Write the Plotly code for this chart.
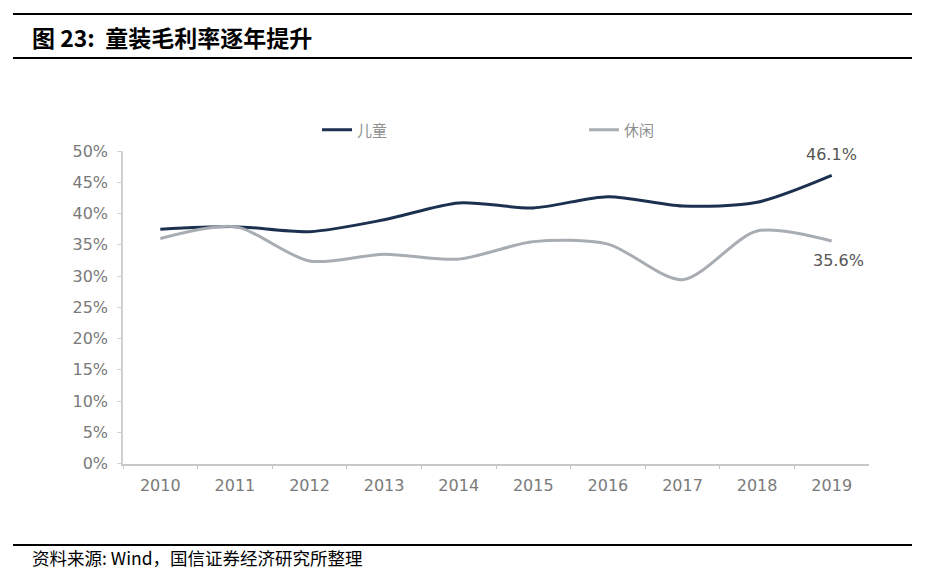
import plotly.graph_objects as go

years = ["2010", "2011", "2012", "2013", "2014", "2015", "2016", "2017", "2018", "2019"]
kids = [37.5, 37.9, 37.1, 39.0, 41.7, 40.9, 42.7, 41.2, 41.8, 46.1]
casual = [36.0, 37.9, 32.4, 33.5, 32.7, 35.5, 35.1, 29.4, 37.2, 35.6]
series_names = ["儿童", "休闲"]
y_ticks = [0, 5, 10, 15, 20, 25, 30, 35, 40, 45, 50]
y_tick_text = [f"{v}%" for v in y_ticks]

W, H = 947, 579
def px(x):
    return x / W
def py(y):
    return 1 - y / H

fig = go.Figure()
fig.add_trace(go.Scatter(x=years, y=kids, name=series_names[0], mode="lines",
                         line=dict(color="#1c3150", width=3, shape="spline", smoothing=0.8)))
fig.add_trace(go.Scatter(x=years, y=casual, name=series_names[1], mode="lines",
                         line=dict(color="#a8adb3", width=3, shape="spline", smoothing=0.8)))

num_font = dict(family="DejaVu Sans", size=16, color="#7a7a7a")

fig.update_layout(
    width=W, height=H,
    margin=dict(l=0, r=0, t=0, b=0, autoexpand=False),
    paper_bgcolor="white", plot_bgcolor="white",
    xaxis=dict(domain=[px(123), px(869)], type="category", range=[-0.5, 9.5],
               showgrid=False, showline=True, linecolor="#c8c8c8", linewidth=1.5,
               ticks="outside", ticklen=4, tickcolor="#c8c8c8", tickson="boundaries",
               tickfont=num_font, ticklabelstandoff=7, fixedrange=True, automargin=False),
    yaxis=dict(domain=[py(463.5), py(151)], range=[0, 50], tickvals=y_ticks,
               ticktext=y_tick_text, showgrid=False, zeroline=False, showline=True,
               linecolor="#d0d0d0", linewidth=1.5, ticks="outside", ticklen=4,
               tickcolor="#d0d0d0", tickfont=num_font, ticklabelstandoff=6,
               fixedrange=True, automargin=False),
    legend=dict(orientation="h", x=px(317), y=py(130), xanchor="left", yanchor="middle",
                entrywidth=222, entrywidthmode="pixels", bgcolor="rgba(0,0,0,0)",
                font=dict(family="Noto Sans CJK SC", size=15, color="#8f8f8f")),
    showlegend=True,
)

# end-point labels (category axis: annotation x is the category index)
last = len(years) - 1
fig.add_annotation(x=last, y=kids[-1], text=f"{kids[-1]:.1f}%", showarrow=False,
                   yshift=21, xshift=0, font=dict(num_font, color="#555555"))
fig.add_annotation(x=last, y=casual[-1], text=f"{casual[-1]:.1f}%", showarrow=False,
                   yshift=-19, xshift=7, font=dict(num_font, color="#555555"))

# title and source
fig.add_annotation(xref="paper", yref="paper", x=px(30), y=py(37), xanchor="left", yanchor="middle",
                   text="<b>图 23:  童装毛利率逐年提升</b>", showarrow=False,
                   font=dict(family="Noto Sans CJK SC", size=23, color="black"))
fig.add_annotation(xref="paper", yref="paper", x=px(30), y=py(557), xanchor="left", yanchor="middle",
                   text="资料来源: Wind，国信证券经济研究所整理", showarrow=False,
                   font=dict(family="Noto Sans CJK SC, Liberation Sans", size=17.5, color="black"))

# rules
for yy in (14, 58, 545):
    fig.add_shape(type="line", xref="paper", yref="paper", x0=px(13), x1=px(912),
                  y0=py(yy), y1=py(yy), line=dict(color="black", width=2))

fig.write_html("out.html")
